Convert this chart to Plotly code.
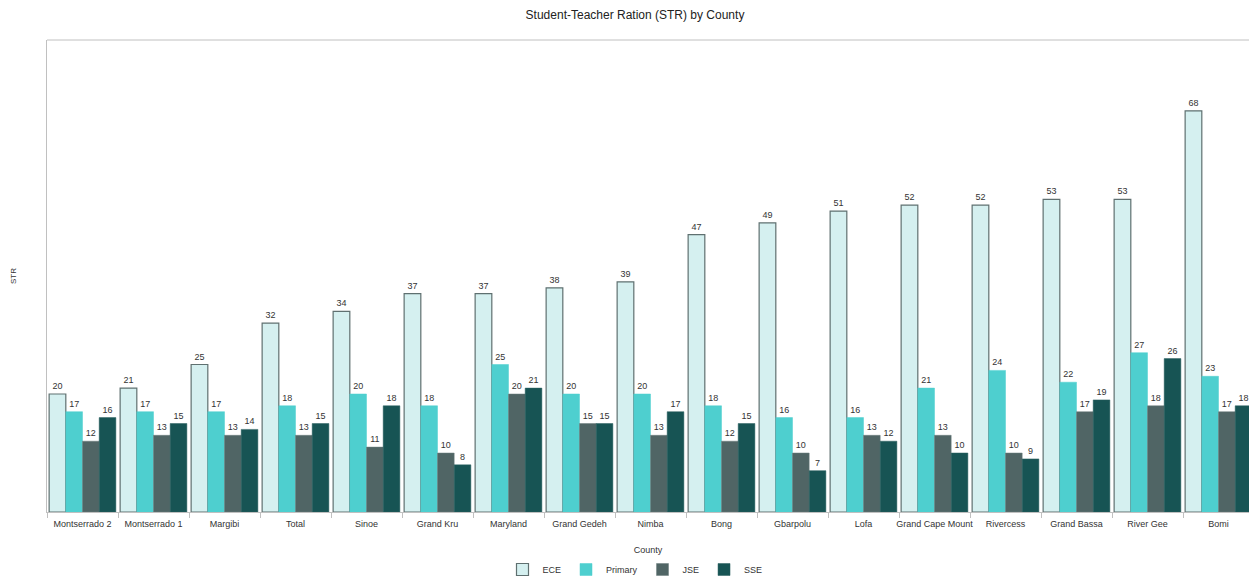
import plotly.graph_objects as go

counties = ["Montserrado 2", "Montserrado 1", "Margibi", "Total", "Sinoe", "Grand Kru",
            "Maryland", "Grand Gedeh", "Nimba", "Bong", "Gbarpolu", "Lofa",
            "Grand Cape Mount", "Rivercess", "Grand Bassa", "River Gee", "Bomi"]
ece = [20, 21, 25, 32, 34, 37, 37, 38, 39, 47, 49, 51, 52, 52, 53, 53, 68]
primary = [17, 17, 17, 18, 20, 18, 25, 20, 20, 18, 16, 16, 21, 24, 22, 27, 23]
jse = [12, 13, 13, 13, 11, 10, 20, 15, 13, 12, 10, 13, 13, 10, 17, 18, 17]
sse = [16, 15, 14, 15, 18, 8, 21, 15, 17, 15, 7, 12, 10, 9, 19, 26, 18]

series = [
    ("ECE", ece, "#d5f0f0", "#5f7070", 1.2),
    ("Primary", primary, "#4ecfcf", "#4ecfcf", 0.5),
    ("JSE", jse, "#506565", "#6a7c7c", 0.5),
    ("SSE", sse, "#175454", "#2a5f5f", 0.5),
]

W, H = 1249, 577
PLOT_H = H - 40 - 65

fig = go.Figure()
for name, vals, color, lc, lw in series:
    fig.add_trace(go.Bar(
        x=counties, y=vals, name=name,
        marker=dict(color=color, line=dict(color=lc, width=lw)),
        text=[str(v) for v in vals], textposition="outside",
        textfont=dict(size=9, color="#333333"), cliponaxis=False,
    ))

fig.update_layout(
    width=W, height=H,
    barmode="group", bargap=0.06, bargroupgap=0,
    plot_bgcolor="white", paper_bgcolor="white",
    font=dict(family="Liberation Sans, Arial, sans-serif", color="#333333"),
    margin=dict(l=47, r=0, t=40, b=65, autoexpand=False),
    title=dict(text="Student-Teacher Ration (STR) by County", x=635/W, xref="container",
               xanchor="center", y=1 - 15/H, yref="container", yanchor="middle",
               font=dict(size=12, color="#222222")),
    xaxis=dict(range=[-0.5, -0.5 + 1202/71], showline=True, linecolor="#c0c0c0", linewidth=1,
               mirror=False, ticks="outside", tickson="boundaries", ticklen=5, tickcolor="#c0c0c0",
               tickfont=dict(size=9, color="#333333"), showgrid=False, tickangle=0,
               automargin=False, ticklabelstandoff=3,
               title=dict(text="County", font=dict(size=9), standoff=18)),
    yaxis=dict(range=[0, 80], showline=True, linecolor="#c0c0c0", linewidth=1, mirror=False,
               showticklabels=False, ticks="", showgrid=False, zeroline=False, automargin=False,
               title=dict(text="STR", font=dict(size=8), standoff=28)),
    legend=dict(orientation="h", x=(635 - 47) / 1202, xref="paper", xanchor="center",
                y=-(H + 7 - 512) / PLOT_H, yref="paper", yanchor="bottom",
                font=dict(size=9), itemwidth=30, tracegroupgap=0),
    shapes=[dict(type="line", xref="paper", yref="paper", x0=0, x1=1, y0=1, y1=1,
                 line=dict(color="#c0c0c0", width=1))],
)

fig.write_html("out.html", config={"displayModeBar": False},
               post_script="document.body.style.margin='0';document.body.style.overflow='hidden';")
